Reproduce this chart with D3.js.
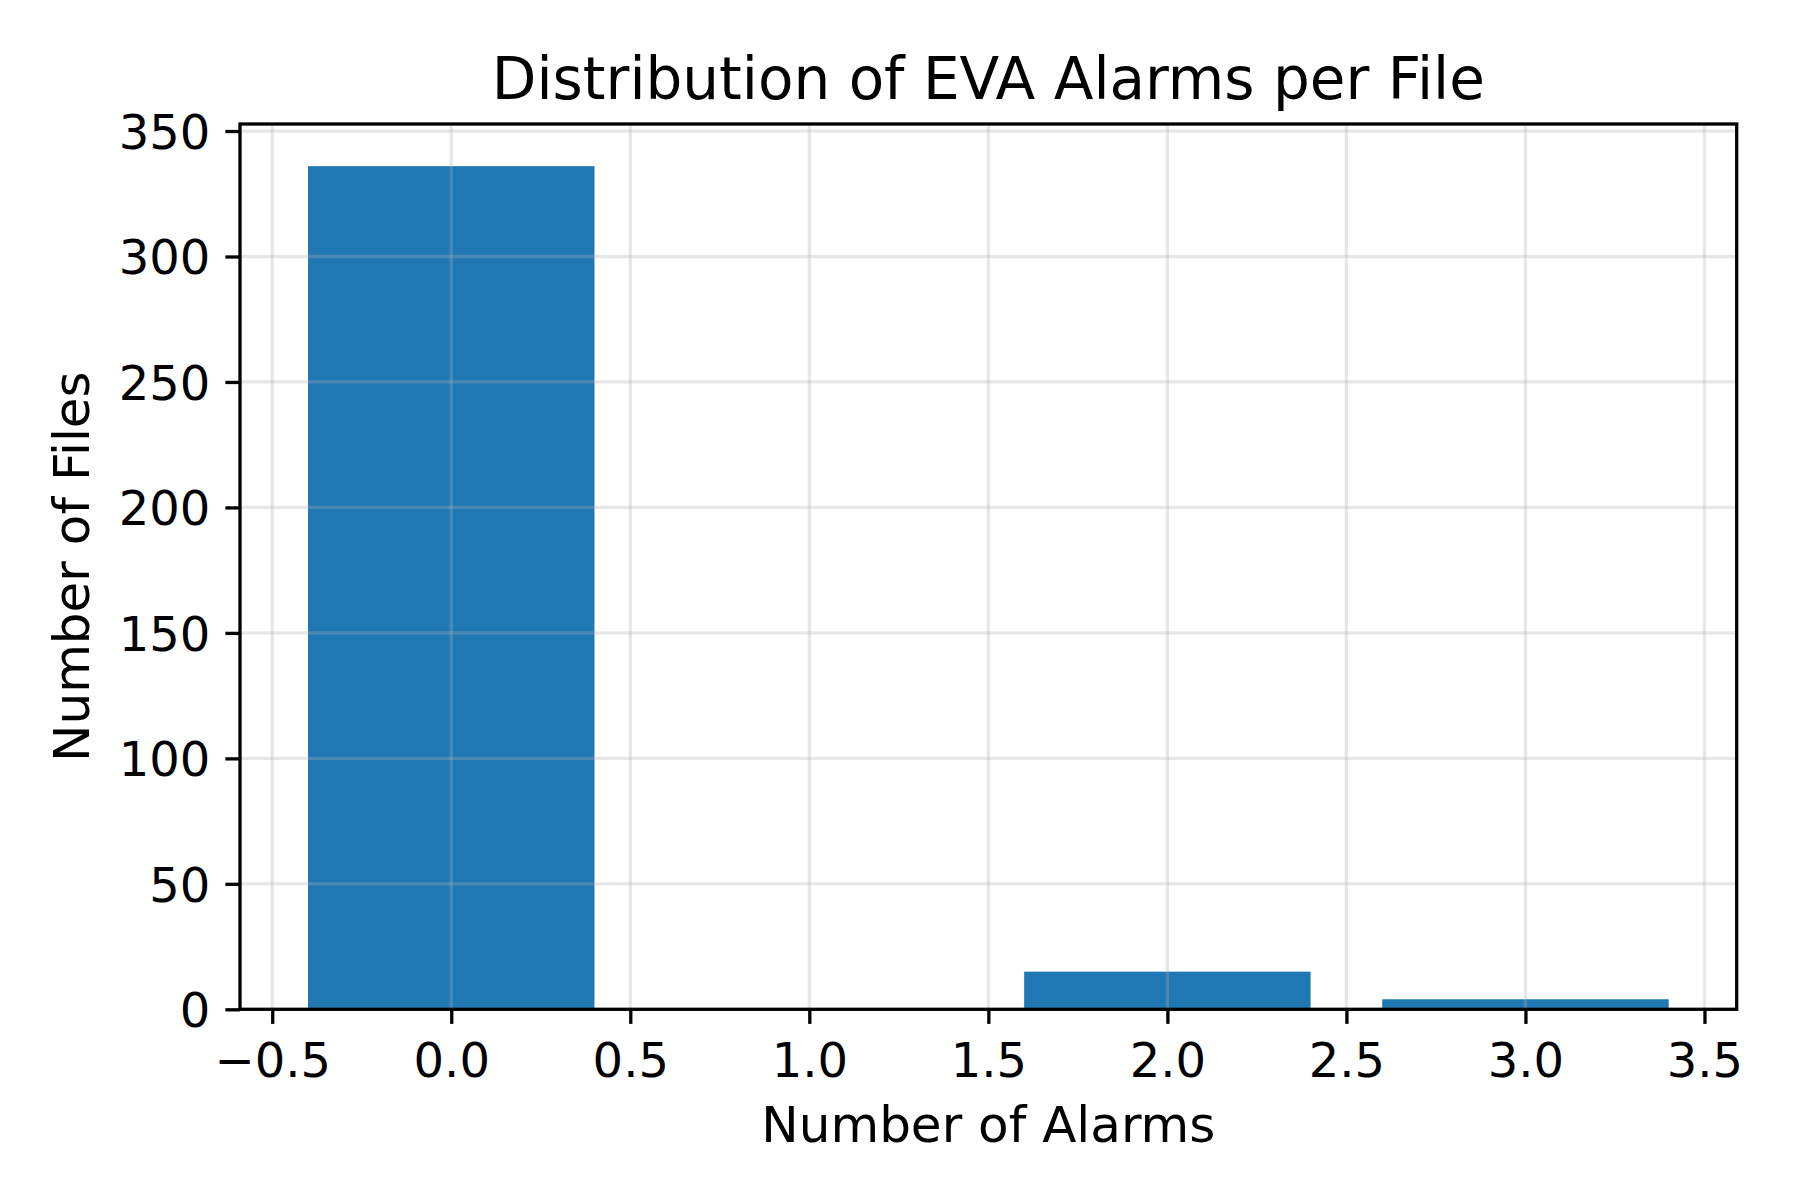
<!DOCTYPE html>
<html lang="en">
<head>
    <meta charset="UTF-8">
    <title>Distribution of EVA Alarms per File</title>
    <style>
        body { margin: 0; background: #fff; }
        svg text { font-family: "DejaVu Sans", sans-serif; fill: #000; }
    </style>
    <script src="https://cdn.jsdelivr.net/npm/d3@7"></script>
</head>
<body>
    <svg id="chart" width="1800" height="1200"></svg>

    <script>
        // data
        const alarms = [0, 2, 3];
        const fileCounts = [336, 15, 4];
        const xTicks = [-0.5, 0, 0.5, 1, 1.5, 2, 2.5, 3, 3.5];
        const yTicks = [0, 50, 100, 150, 200, 250, 300, 350];

        const svg = d3.select("#chart");
        const plotLeft = 240, plotRight = 1736.7, plotTop = 124, plotBottom = 1009.3;
        const barW = 0.8;
        const lw = 3.3, tickLen = 14.6;

        // matplotlib-like 5% margins
        const xMin = d3.min(alarms) - barW / 2, xMax = d3.max(alarms) + barW / 2;
        const pad = (xMax - xMin) * 0.05;
        const x = d3.scaleLinear().domain([xMin - pad, xMax + pad]).range([plotLeft, plotRight]);
        const y = d3.scaleLinear().domain([0, d3.max(fileCounts) * 1.05]).range([plotBottom, plotTop]);

        // bars
        svg.append("g").selectAll("rect")
            .data(alarms)
            .join("rect")
            .attr("x", d => x(d - barW / 2))
            .attr("width", d => x(d + barW / 2) - x(d - barW / 2))
            .attr("y", (d, i) => y(fileCounts[i]))
            .attr("height", (d, i) => y(0) - y(fileCounts[i]))
            .attr("fill", "#1f77b4");

        // grid on top of bars, light
        const grid = svg.append("g").attr("stroke", "#b0b0b0").attr("stroke-opacity", 0.3).attr("stroke-width", lw);
        grid.selectAll(".gx").data(xTicks).join("line")
            .attr("x1", d => x(d)).attr("x2", d => x(d))
            .attr("y1", plotTop).attr("y2", plotBottom);
        grid.selectAll(".gy").data(yTicks).join("line")
            .attr("y1", d => y(d)).attr("y2", d => y(d))
            .attr("x1", plotLeft).attr("x2", plotRight);

        // axes
        const fmt = d3.format(".1f");
        const xAxis = svg.append("g")
            .attr("transform", `translate(0,${plotBottom})`)
            .call(d3.axisBottom(x).tickValues(xTicks).tickFormat(fmt).tickSize(tickLen).tickSizeOuter(0));
        xAxis.selectAll("text").attr("y", 67.4).attr("dy", 0).style("font-size", "48px");

        const yAxis = svg.append("g")
            .attr("transform", `translate(${plotLeft},0)`)
            .call(d3.axisLeft(y).tickValues(yTicks).tickSize(tickLen).tickPadding(15).tickSizeOuter(0));
        yAxis.selectAll("text").attr("dy", "0.36em").style("font-size", "48px");

        svg.selectAll(".domain").remove();
        svg.selectAll(".tick line").attr("stroke", "#000").attr("stroke-width", lw);
        svg.selectAll(".tick text").attr("font-family", null);

        // frame
        svg.append("rect")
            .attr("x", plotLeft).attr("y", plotTop)
            .attr("width", plotRight - plotLeft).attr("height", plotBottom - plotTop)
            .attr("fill", "none").attr("stroke", "#000").attr("stroke-width", lw);

        // texts
        const cx = (plotLeft + plotRight) / 2;
        svg.append("text").attr("x", cx).attr("y", 99.3)
            .attr("text-anchor", "middle").style("font-size", "58px")
            .text("Distribution of EVA Alarms per File");
        svg.append("text").attr("x", cx).attr("y", 1141.7)
            .attr("text-anchor", "middle").style("font-size", "50px")
            .text("Number of Alarms");
        svg.append("text")
            .attr("transform", `translate(89,${(plotTop + plotBottom) / 2}) rotate(-90)`)
            .attr("text-anchor", "middle").style("font-size", "50px")
            .text("Number of Files");
    </script>
</body>
</html>
